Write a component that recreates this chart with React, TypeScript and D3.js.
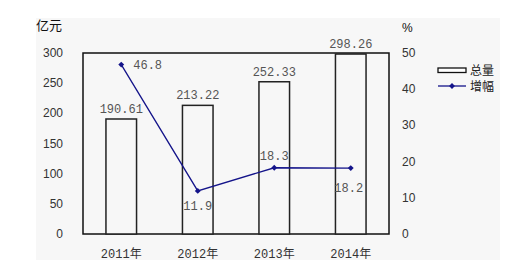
import React from "react";
import * as d3 from "d3";

const years = ["2011年", "2012年", "2013年", "2014年"];
const totals = [190.61, 213.22, 252.33, 298.26];
const growth = [46.8, 11.9, 18.3, 18.2];
const leftTicks = [0, 50, 100, 150, 200, 250, 300];
const rightTicks = [0, 10, 20, 30, 40, 50];
const legendLabels = ["总量", "增幅"];

const W = 529;
const H = 273;
const plot = { left: 83, right: 389, top: 53, bottom: 234 };
const lineColor = "#14148a";
const monoFont = "'Liberation Mono', 'Noto Sans CJK SC', monospace";
const sansFont = "'Liberation Sans', 'Noto Sans CJK SC', sans-serif";

export default function App() {
  const x = d3.scaleBand<string>().domain(years).range([plot.left, plot.right]).paddingInner(0.6).paddingOuter(0.3);
  const xc = (d: string) => (x(d) ?? 0) + x.bandwidth() / 2;
  const yL = d3.scaleLinear().domain([0, 300]).range([plot.bottom, plot.top]);
  const yR = d3.scaleLinear().domain([0, 50]).range([plot.bottom, plot.top]);
  const line = d3
    .line<number>()
    .x((_, i) => xc(years[i]))
    .y((d) => yR(d));
  const diamond = d3.symbol(d3.symbolDiamond2, 22)() ?? "";

  // label placement for the growth line: right, below, above, below
  const growthOffsets: [number, number, string][] = [
    [12, 4, "start"],
    [0, 19, "middle"],
    [0, -8, "middle"],
    [-2, 24, "middle"],
  ];

  return (
    <svg
      width={W}
      height={H}
      style={{ position: "absolute", left: 0, top: 0, display: "block", background: "#ffffff" }}
    >
      <rect x={36} y={18} width={464} height={242} fill="#f7f7f7" />

      {/* frame */}
      <rect
        x={plot.left}
        y={plot.top}
        width={plot.right - plot.left}
        height={plot.bottom - plot.top}
        fill="none"
        stroke="#111"
        strokeWidth={1.5}
      />

      {/* bars */}
      {totals.map((v, i) => (
        <rect
          key={years[i]}
          x={x(years[i])}
          y={yL(v)}
          width={x.bandwidth()}
          height={plot.bottom - yL(v)}
          fill="#f7f7f7"
          stroke="#222"
          strokeWidth={1.5}
        />
      ))}
      {totals.map((v, i) => (
        <text
          key={"t" + i}
          x={xc(years[i])}
          y={yL(v) - 6}
          textAnchor="middle"
          fontFamily={monoFont}
          fontSize={12}
          fill="#555"
        >
          {v.toFixed(2)}
        </text>
      ))}

      {/* growth line */}
      <path d={line(growth) ?? ""} fill="none" stroke={lineColor} strokeWidth={1.3} />
      {growth.map((v, i) => (
        <path key={"m" + i} d={diamond} transform={`translate(${xc(years[i])},${yR(v)})`} fill={lineColor} />
      ))}
      {growth.map((v, i) => (
        <text
          key={"g" + i}
          x={xc(years[i]) + growthOffsets[i][0]}
          y={yR(v) + growthOffsets[i][1]}
          textAnchor={growthOffsets[i][2]}
          fontFamily={monoFont}
          fontSize={12}
          fill="#555"
        >
          {v.toFixed(1)}
        </text>
      ))}

      {/* left axis */}
      <text x={36} y={30} fontFamily={sansFont} fontSize={13} fill="#111">
        亿元
      </text>
      {leftTicks.map((t) => (
        <text
          key={"l" + t}
          x={63}
          y={yL(t) + 4}
          textAnchor="end"
          fontFamily={sansFont}
          fontSize={12}
          fill="#333"
        >
          {t}
        </text>
      ))}

      {/* right axis */}
      <text x={402} y={32} fontFamily={sansFont} fontSize={12} fill="#111">
        %
      </text>
      {rightTicks.map((t) => (
        <text key={"r" + t} x={402} y={yR(t) + 4} fontFamily={sansFont} fontSize={12} fill="#333">
          {t}
        </text>
      ))}

      {/* category labels */}
      {years.map((d) => (
        <text
          key={d}
          x={xc(d)}
          y={258}
          textAnchor="middle"
          fontFamily={monoFont}
          fontSize={12}
          fill="#333"
        >
          {d}
        </text>
      ))}

      {/* legend */}
      <rect x={438} y={68} width={28} height={4.5} fill="#fff" stroke="#111" strokeWidth={1.3} />
      <text x={470} y={75} fontFamily={sansFont} fontSize={12} fill="#222">
        {legendLabels[0]}
      </text>
      <line x1={438} x2={466} y1={86} y2={86} stroke={lineColor} strokeWidth={1.3} />
      <path d={diamond} transform="translate(452,86)" fill={lineColor} />
      <text x={470} y={91} fontFamily={sansFont} fontSize={12} fill="#222">
        {legendLabels[1]}
      </text>
    </svg>
  );
}
